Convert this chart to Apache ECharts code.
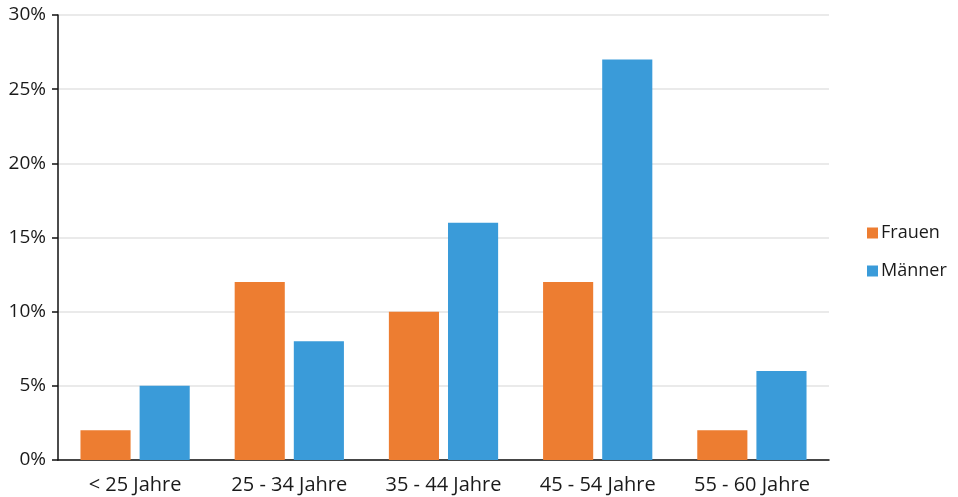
<!DOCTYPE html>
<html>
<head>
<meta charset="utf-8">
<script src="https://cdn.jsdelivr.net/npm/echarts@6/dist/echarts.min.js"></script>
<style>
  html, body { margin: 0; padding: 0; background: #fff; }
  #chart { width: 958px; height: 497px; }
</style>
</head>
<body>
<div id="chart"></div>
<script>
// Altersgruppen und Anteile (in Prozent)
const categories = ['< 25 Jahre', '25 - 34 Jahre', '35 - 44 Jahre', '45 - 54 Jahre', '55 - 60 Jahre'];
const frauen = [2, 12, 10, 12, 2];
const maenner = [5, 8, 16, 27, 6];
const seriesNames = ['Frauen', 'Männer'];
const colors = ['#ED7D31', '#3A9BD9'];

const font = '"Open Sans", "Noto Sans", sans-serif';
const textColor = '#1a1a1a';
const chart = echarts.init(document.getElementById('chart'), null, { renderer: 'canvas' });

chart.setOption({
  animation: false,
  color: colors,
  textStyle: { fontFamily: font },
  grid: { left: 58, right: 129, top: 15, bottom: 37, containLabel: false },
  legend: {
    orient: 'vertical',
    left: 862,
    top: 219,
    itemWidth: 11,
    itemHeight: 11,
    itemGap: 20,
    icon: 'rect',
    textStyle: { fontFamily: font, fontSize: 18, color: textColor, padding: [0, 0, 0, -2] },
    data: seriesNames
  },
  xAxis: {
    type: 'category',
    data: categories,
    axisLine: { lineStyle: { color: '#111', width: 1.5 } },
    axisTick: { show: false },
    axisLabel: { fontFamily: font, fontSize: 20, color: textColor, margin: 15 }
  },
  yAxis: {
    type: 'value',
    min: 0,
    max: 30,
    interval: 5,
    axisLine: { show: true, lineStyle: { color: '#111', width: 1.5 } },
    axisTick: { show: true, length: 6, inside: false, lineStyle: { color: '#111', width: 1.5 } },
    axisLabel: { fontFamily: font, fontSize: 19, color: textColor, margin: 12, formatter: '{value}%' },
    splitLine: { lineStyle: { color: '#e3e3e3', width: 1.5 } }
  },
  series: [
    {
      name: seriesNames[0],
      type: 'bar',
      data: frauen,
      barWidth: '32.5%',
      barGap: '18%',
      itemStyle: { color: colors[0] }
    },
    {
      name: seriesNames[1],
      type: 'bar',
      data: maenner,
      barWidth: '32.5%',
      barGap: '18%',
      itemStyle: { color: colors[1] }
    }
  ]
});
</script>
</body>
</html>
